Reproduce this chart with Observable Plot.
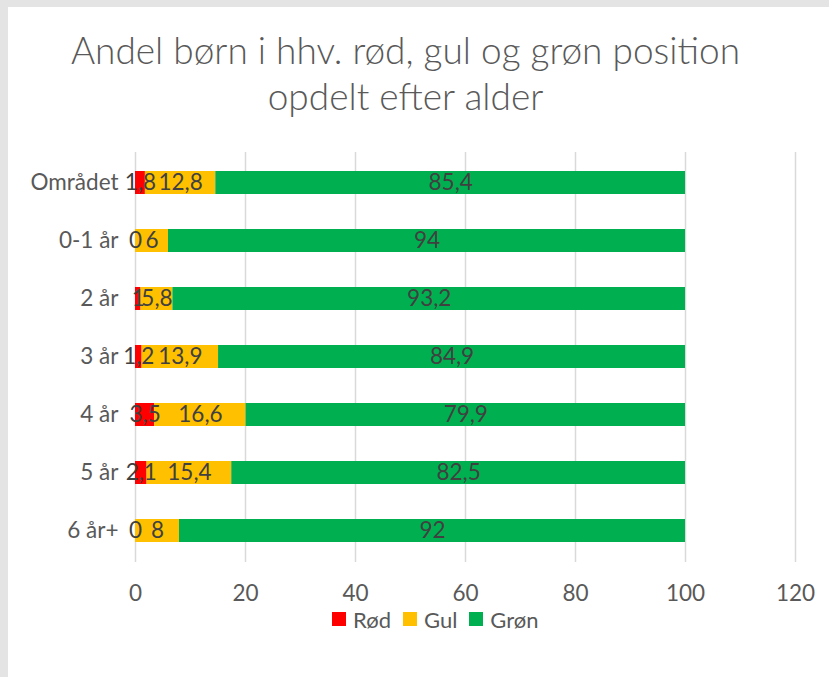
<!DOCTYPE html>
<html><head><meta charset="utf-8">
<script src="https://cdn.jsdelivr.net/npm/d3@7"></script>
<script src="https://cdn.jsdelivr.net/npm/@observablehq/plot@0.6"></script>
<style>
body{margin:0;background:#e4e4e4;width:829px;height:677px;overflow:hidden;position:relative;font-family:Lato,"Open Sans",sans-serif}
#panel{position:absolute;left:8px;top:7px;right:0;bottom:0;background:#fff}
#title{position:absolute;left:0;width:811px;top:27px;text-align:center;font-size:37px;font-weight:300;color:#595959;line-height:46px}
#chart{position:absolute;left:0;top:140px}
#legend{position:absolute;left:332px;top:606px;height:26px;display:flex;align-items:center;font-size:22px;color:#595959}
#legend .it{display:flex;align-items:center;margin-right:12px}
#legend .sw{width:14px;height:14px;margin-right:7px}
</style></head>
<body>
<div id="panel"></div>
<div id="title">Andel børn i hhv. rød, gul og grøn position<br>opdelt efter alder</div>
<div id="chart"></div>
<div id="legend"></div>
<script>
const categories = ["Området","0-1 år","2 år","3 år","4 år","5 år","6 år+"];
const rod = [1.8,0,1,1.2,3.5,2.1,0];
const gul = [12.8,6,5.8,13.9,16.6,15.4,8];
const gron = [85.4,94,93.2,84.9,79.9,82.5,92];
const series = ["Rød","Gul","Grøn"];
const colors = ["#FF0000","#FFC000","#00B050"];
const xTicks = [0,20,40,60,80,100,120];

const valuesBySeries = [rod, gul, gron];
const data = [];
categories.forEach((c,i) => {
  series.forEach((s,j) => data.push({category:c, series:s, value:valuesBySeries[j][i]}));
});
const fmt = v => String(v).replace(".", ",");

const plot = Plot.plot({
  width: 829,
  height: 482,
  marginTop: 12,
  marginBottom: 60,
  marginLeft: 135,
  marginRight: 34,
  style: {fontFamily: "Lato, 'Open Sans', sans-serif", color: "#595959", background: "transparent", overflow: "visible"},
  x: {domain: [0,120]},
  y: {domain: categories, paddingInner: 0.6, paddingOuter: 0.3},
  color: {domain: series, range: colors},
  marks: [
    Plot.ruleX(xTicks, {stroke: "#d9d9d9", strokeWidth: 1.5}),
    Plot.barX(data, {x: "value", y: "category", fill: "series", z: "series"}),
    Plot.text(data, Plot.stackX({x: "value", y: "category", z: "series", text: d => fmt(d.value), fill: "#404040", fontSize: 22.5})),
    Plot.axisX(xTicks, {tickSize: 0, tickPadding: 23, fontSize: 22.5, label: null}),
    Plot.axisY(categories, {tickSize: 0, tickPadding: 17, fontSize: 22.5, label: null})
  ]
});
document.getElementById("chart").appendChild(plot);

const leg = document.getElementById("legend");
series.forEach((s,j) => {
  const it = document.createElement("div"); it.className = "it";
  const sw = document.createElement("div"); sw.className = "sw"; sw.style.background = colors[j];
  const t = document.createElement("span"); t.textContent = s;
  it.appendChild(sw); it.appendChild(t); leg.appendChild(it);
});
</script>
</body></html>
